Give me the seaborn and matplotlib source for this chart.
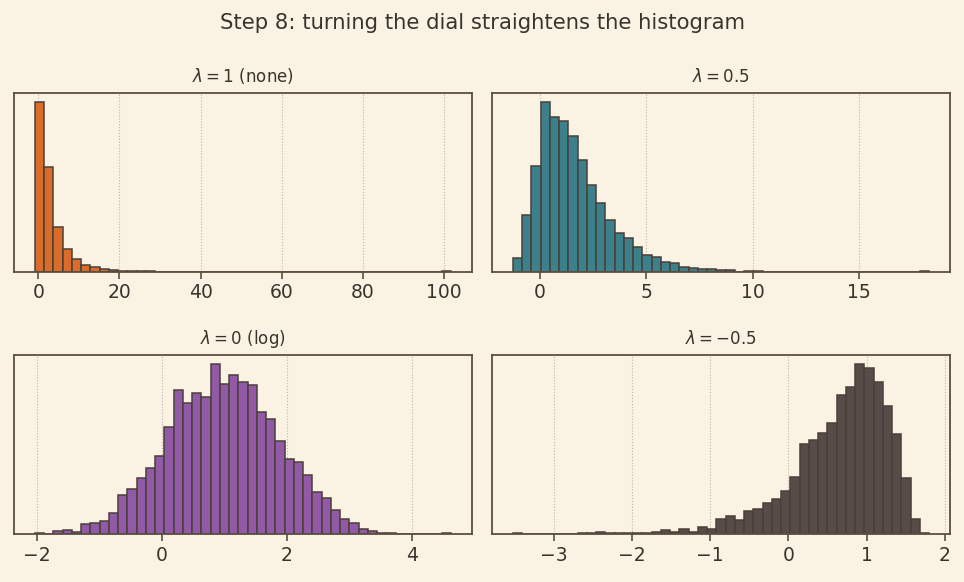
import numpy as np
import pandas as pd
import seaborn as sns
import matplotlib.pyplot as plt
from matplotlib.ticker import MultipleLocator

# Box-Cox steps of one skewed sample, 45 bins each, counts
titles = [r"$\lambda = 1$ (none)", r"$\lambda = 0.5$",
          r"$\lambda = 0$ (log)", r"$\lambda = -0.5$"]
colors = ["#DA6C2A", "#3B808A", "#9259A6", "#584C49"]
tick_steps = [20, 5, 2, 1]

# data range of each transformed sample (min, max)
ranges = [(-0.87, 101.8), (-1.28, 18.3), (-2.03, 4.63), (-3.52, 1.80)]

counts_none = [1027, 630, 271, 136, 76, 42, 28, 16, 10, 6,
               3, 2, 1, 0, 0, 0, 0, 0, 0, 0,
               0, 0, 0, 0, 0, 0, 0, 0, 0, 0,
               0, 0, 0, 0, 0, 0, 0, 0, 0, 0,
               0, 0, 0, 0, 1]
counts_half = [24, 100, 187, 301, 274, 267, 241, 198, 153, 121,
               91, 68, 59, 44, 30, 26, 17, 15, 8, 6,
               5, 4, 2, 2, 0, 1, 1, 0, 0, 0,
               0, 0, 0, 0, 0, 0, 0, 0, 0, 0,
               0, 0, 0, 0, 1]
counts_log = [1, 0, 3, 4, 2, 9, 10, 12, 19, 36,
              41, 51, 60, 71, 98, 131, 119, 129, 125, 155,
              137, 145, 139, 136, 111, 105, 85, 68, 66, 54,
              38, 33, 22, 14, 10, 5, 3, 1, 1, 0,
              0, 0, 0, 0, 1]
counts_neg = [1, 0, 0, 0, 0, 0, 0, 1, 1, 2,
              1, 1, 1, 1, 1, 2, 5, 2, 6, 2,
              9, 6, 19, 23, 18, 29, 32, 39, 45, 55,
              73, 115, 120, 129, 142, 177, 188, 217, 212, 194,
              164, 127, 71, 19, 1]
all_counts = [counts_none, counts_half, counts_log, counts_neg]

bg = "#FAF3E3"
ink = "#3A332D"
edge = "#4A4039"

sns.set_theme(style="ticks", rc={
    "figure.facecolor": bg, "axes.facecolor": bg,
    "axes.edgecolor": "#5A4E42", "axes.linewidth": 1.3,
    "xtick.color": "#5A4E42", "xtick.labelcolor": ink,
    "xtick.labelsize": 13.5, "xtick.major.size": 5,
    "xtick.major.width": 1.2, "text.color": ink,
})

fig, axes = plt.subplots(2, 2, figsize=(9.64, 5.82), dpi=100)
fig.subplots_adjust(left=0.0145, right=0.9855, top=0.84, bottom=0.0825,
                    wspace=0.044, hspace=0.47)

for ax, title, col, (lo, hi), counts, st in zip(axes.flat, titles, colors, ranges,
                                                 all_counts, tick_steps):
    step = (hi - lo) / len(counts)
    df = pd.DataFrame({"value": lo + step * (np.arange(len(counts)) + 0.5),
                       "count": counts})
    sns.histplot(data=df, x="value", weights="count", bins=len(counts),
                 binrange=(lo, hi), color=col, alpha=1, edgecolor=edge,
                 linewidth=1.1, ax=ax)
    ax.set_title(title, fontsize=12, color=ink, pad=8)
    ax.xaxis.set_major_locator(MultipleLocator(st))
    ax.set_yticks([])
    ax.set_ylabel("")
    ax.set_xlabel("")
    ax.grid(axis="x", linestyle=":", color="#BDB5A8", linewidth=0.8)
    ax.set_axisbelow(True)
    for s in ax.spines.values():
        s.set_visible(True)

fig.suptitle("Step 8: turning the dial straightens the histogram",
             fontsize=15.2, color=ink, y=0.978)

fig.savefig("out.png", dpi=100, facecolor=bg)
